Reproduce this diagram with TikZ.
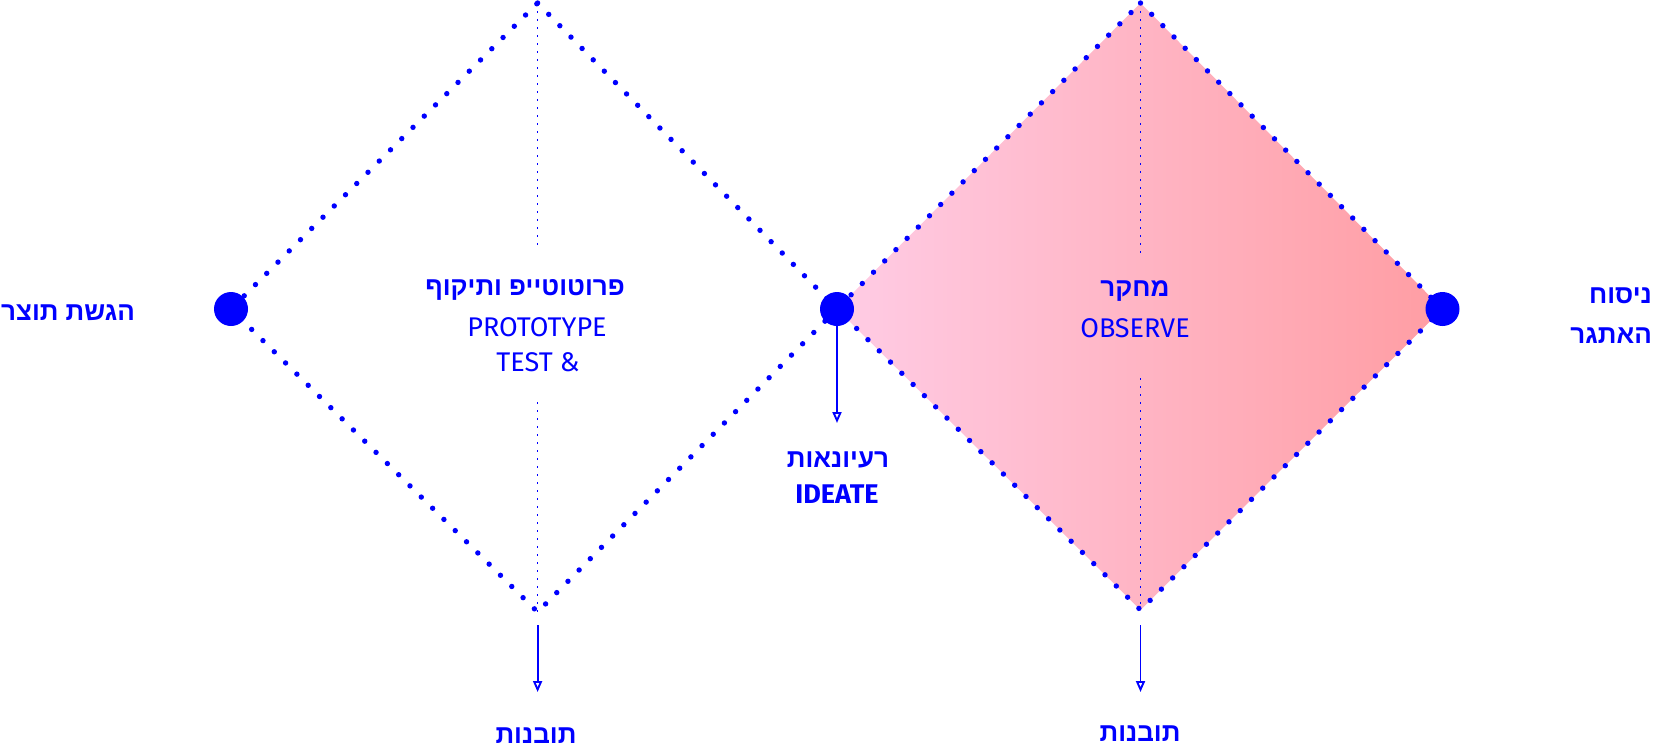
\documentclass[tikz,border=0pt]{standalone}
\usepackage{fontspec}
\setmainfont{Fira Sans}
\newfontfamily\hebfont[Script=Hebrew]{Liberation Sans}
\newfontfamily\latfont{Fira Sans}
\TeXXeTstate=1
\usetikzlibrary{arrows.meta}
\definecolor{azul}{HTML}{0000FF}
\definecolor{rosa}{HTML}{FFCCE5}
\definecolor{rosameio}{HTML}{FFB8C8}
\definecolor{salmao}{HTML}{FF9DA3}

\begin{document}
\begin{tikzpicture}[
  x=1pt, y=-1pt,
  contorno/.style={azul, line width=5.4pt, line cap=round, dash pattern=on 0pt off 15.9pt},
  eixo/.style={azul, line width=1.5pt, dash pattern=on 1.5pt off 6.5pt},
  ponto/.style={circle, fill=azul, inner sep=0pt, minimum size=34pt},
  seta/.style={azul, line width=1.9pt, -{Triangle[open, length=11pt, width=9pt]}},
  titulo/.style={azul, font=\hebfont\bfseries\fontsize{26}{30}\selectfont, inner sep=0pt},
  subtitulo/.style={azul, font=\latfont\fontsize{27}{30}\selectfont, inner sep=0pt}
]
  \useasboundingbox (0,0) rectangle (1656,750);

  % vertices
  \coordinate (dtopo) at (537.6,3);
  \coordinate (dbase) at (537.6,612);
  \coordinate (etopo) at (1140.5,3);
  \coordinate (ebase) at (1140.5,610);

  % fundo rosa
  \shade[left color=rosa, middle color=rosameio, right color=salmao]
    (etopo) -- (1442.5,309) -- (ebase) -- (837,309) -- cycle;

  % contornos
  \draw[contorno] (dtopo) -- (837,309) -- (dbase) -- (231,309) -- cycle;
  \draw[contorno] (etopo) -- (1442.5,309) -- (ebase) -- (837,309) -- cycle;

  % eixos
  \draw[eixo] (dtopo) -- (537.6,245);
  \draw[eixo] (537.6,402) -- (dbase);
  \draw[eixo] (etopo) -- (1140.5,253);
  \draw[eixo] (1140.5,378) -- (ebase);

  % pontos
  \node[ponto] (entrega) at (231,309) {};
  \node[ponto] (ideia) at (837,309) {};
  \node[ponto] (desafio) at (1442.5,309) {};

  % setas
  \coordinate (fimideia) at (837,423);
  \coordinate (inicioesq) at (537.6,625);
  \coordinate (fimesq) at (537.6,692);
  \coordinate (iniciodir) at (1140.5,625);
  \coordinate (fimdir) at (1140.5,692);
  \draw[seta] (ideia.center) -- (fimideia);
  \draw[seta] (inicioesq) -- (fimesq);
  \draw[seta] (iniciodir) -- (fimdir);

  % textos
  \node[titulo, anchor=west] (lentrega) at (1,313) {\beginR הגשת תוצר\endR};
  \node[titulo] (lproto) at (525,290) {\beginR פרוטוטייפ ותיקוף\endR};
  \node[subtitulo] (lprotoen) at (537,327) {PROTOTYPE};
  \node[subtitulo] (ltest) at (538,362) {TEST \&};
  \node[titulo] (lideia) at (838,460) {\beginR רעיונאות\endR};
  \node[titulo, font=\bfseries\fontsize{27}{30}\selectfont] (lideiaen) at (837,494) {IDEATE};
  \node[titulo] (lpesquisa) at (1135,291) {\beginR מחקר\endR};
  \node[subtitulo] (lobserve) at (1135,328) {OBSERVE};
  \node[titulo, anchor=east] (ldesafio1) at (1652,296) {\beginR ניסוח\endR};
  \node[titulo, anchor=east] (ldesafio2) at (1652,336) {\beginR האתגר\endR};
  \node[titulo] (linsesq) at (536,736) {\beginR תובנות\endR};
  \node[titulo] (linsdir) at (1140,734) {\beginR תובנות\endR};
\end{tikzpicture}
\end{document}
